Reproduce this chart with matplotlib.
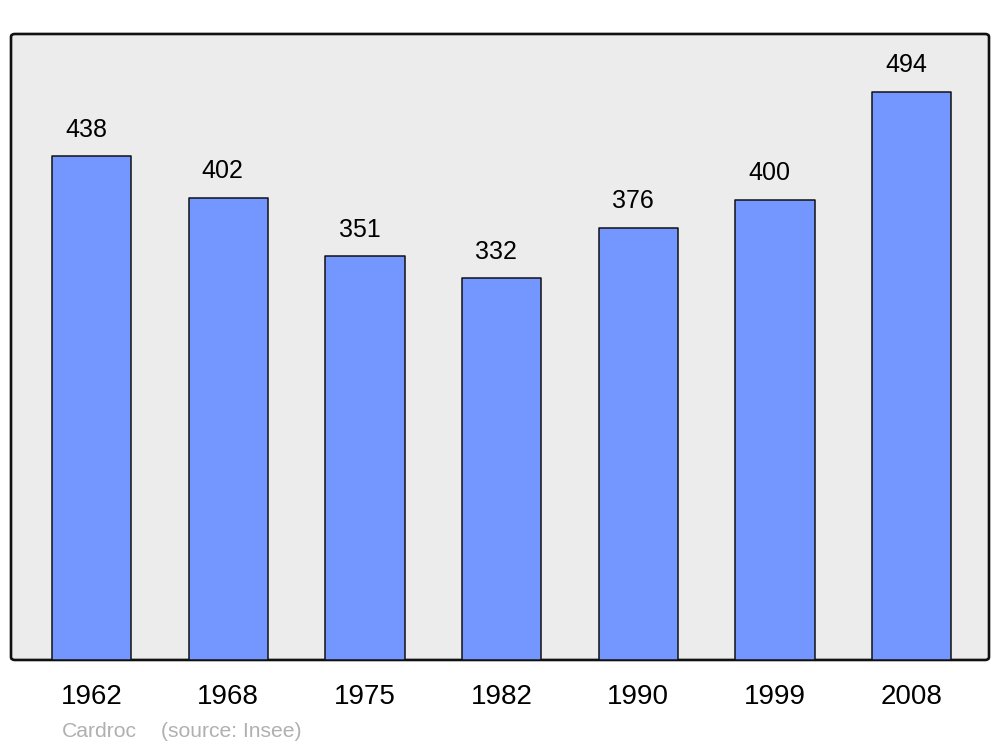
import matplotlib
matplotlib.use("Agg")
import matplotlib.pyplot as plt
from matplotlib.patches import FancyBboxPatch

plt.rcParams['font.family'] = ['Liberation Sans', 'DejaVu Sans']

years = ['1962', '1968', '1975', '1982', '1990', '1999', '2008']
population = [438, 402, 351, 332, 376, 400, 494]

fig = plt.figure(figsize=(10, 7.47), dpi=100)
ax = fig.add_axes([0.011, 0.1165, 0.978, 0.838])
ax.set_facecolor('none')

# rounded grey frame
frame = FancyBboxPatch((0, 0), 1, 1, boxstyle="round,pad=0,rounding_size=0.004",
                       transform=ax.transAxes, facecolor='#ececec', edgecolor='#111111',
                       linewidth=1.9, zorder=0, clip_on=False, mutation_aspect=1.17)
ax.add_patch(frame)

x = list(range(len(years)))
bars = ax.bar(x, population, width=0.58, color='#7397ff', edgecolor='#111111',
              linewidth=1.1, zorder=2)
for b in bars:
    b.set_joinstyle('round')

for xi, v in zip(x, population):
    ax.annotate(str(v), (xi, v), xytext=(-4, 14), textcoords='offset points',
                ha='center', va='baseline', fontsize=18, color='black')

ax.set_xlim(-0.5894, 6.565)
ax.set_ylim(0, 544.3)
ax.set_xticks(x)
ax.set_xticklabels(years, fontsize=20)
ax.tick_params(axis='x', length=0, pad=17.5)
ax.set_yticks([])
for s in ax.spines.values():
    s.set_visible(False)

fig.text(0.062, 0.0134, 'Cardroc', fontsize=15.2, color='#b0b0b0', va='baseline')
fig.text(0.161, 0.0134, '(source: Insee)', fontsize=15.2, color='#b0b0b0', va='baseline')

fig.savefig('out.png', dpi=100)
